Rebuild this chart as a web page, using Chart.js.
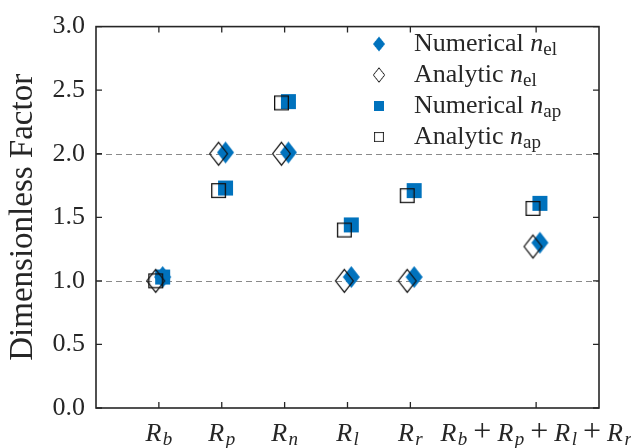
<!DOCTYPE html>
<html><head><meta charset="utf-8">
<script src="https://cdn.jsdelivr.net/npm/chart.js@4.4.0/dist/chart.umd.min.js"></script>
<style>html,body{margin:0;padding:0;background:#fff;}canvas{display:block;}</style>
</head><body>
<canvas id="c" width="631" height="448"></canvas>
<script>
// ---- data ----
const categories = ['R_b', 'R_p', 'R_n', 'R_l', 'R_r', 'R_b+R_p+R_l+R_r'];
const categoryPositions = [1, 2, 3, 4, 5, 7];
const numericalEl = [1.03, 2.01, 2.01, 1.03, 1.03, 1.30];
const analyticEl  = [1.00, 2.00, 2.00, 1.00, 1.00, 1.27];
const numericalAp = [1.03, 1.73, 2.41, 1.44, 1.71, 1.61];
const analyticAp  = [1.00, 1.71, 2.40, 1.40, 1.67, 1.57];
const yTickLabels = ['0.0', '0.5', '1.0', '1.5', '2.0', '2.5', '3.0'];
const refLines = [1.0, 2.0];
const legendLabels = [['Numerical ', 'n', 'el'], ['Analytic ', 'n', 'el'], ['Numerical ', 'n', 'ap'], ['Analytic ', 'n', 'ap']];
const yTitle = 'Dimensionless Factor';

// ---- style ----
const BLUE = '#0072BD';
const AXC = '#262626';
const FAM = '"Liberation Serif", "Times New Roman", serif';
const F_UP = '26px ' + FAM, F_IT = 'italic 26px ' + FAM;
const F_PLUS = '32px ' + FAM;
const F_SUB = '19px ' + FAM, F_SUBIT = 'italic 19px ' + FAM;
const OFF_AN = -0.05, OFF_NUM = 0.06;

function makeMarker(shape, w, h, fill, stroke, lw) {
  const pad = 2;
  const c = document.createElement('canvas');
  c.width = Math.ceil(w + pad * 2); c.height = Math.ceil(h + pad * 2);
  const g = c.getContext('2d');
  const cx = c.width / 2, cy = c.height / 2;
  const ins = stroke ? lw / 2 : 0;
  g.beginPath();
  if (shape === 'diamond') {
    g.moveTo(cx, cy - h / 2 + ins); g.lineTo(cx + w / 2 - ins, cy);
    g.lineTo(cx, cy + h / 2 - ins); g.lineTo(cx - w / 2 + ins, cy); g.closePath();
  } else {
    g.rect(cx - w / 2 + ins, cy - h / 2 + ins, w - 2 * ins, h - 2 * ins);
  }
  if (fill) { g.fillStyle = fill; g.fill(); }
  if (stroke) { g.strokeStyle = stroke; g.lineWidth = lw; g.stroke(); }
  return c;
}
const mNumEl = makeMarker('diamond', 17, 22, BLUE, null, 0);
const mAnEl = makeMarker('diamond', 19, 24, null, '#111', 1.2);
const mNumAp = makeMarker('square', 15, 15, BLUE, null, 0);
const mAnAp = makeMarker('square', 15, 15, null, '#111', 1.3);

function pts(vals, off) { return vals.map((v, i) => ({ x: categoryPositions[i] + off, y: v })); }

function parseLabel(lbl) {
  const runs = [];
  lbl.split('+').forEach((term, k) => {
    if (k > 0) runs.push({ t: '+', f: F_PLUS, dy: 0, pl: 6, pr: 6 });
    const [b, s] = term.split('_');
    runs.push({ t: b, f: F_IT, dy: 0, pr: 1.5 });
    if (s) runs.push({ t: s, f: F_SUBIT, dy: 4 });
  });
  return runs;
}
function drawRuns(ctx, x, y, runs, align) {
  let w = 0;
  runs.forEach(r => { ctx.font = r.f; r.w = ctx.measureText(r.t).width + (r.pl || 0) + (r.pr || 0); w += r.w; });
  let cx = align === 'center' ? x - w / 2 : x;
  ctx.textAlign = 'left'; ctx.textBaseline = 'alphabetic';
  runs.forEach(r => { ctx.font = r.f; ctx.fillText(r.t, cx + (r.pl || 0), y + r.dy); cx += r.w; });
}

const decor = {
  id: 'decor',
  beforeDatasetsDraw(chart) {
    const { ctx, chartArea: a, scales: { y } } = chart;
    ctx.save();
    ctx.strokeStyle = '#8a8a8a'; ctx.lineWidth = 1; ctx.setLineDash([6, 4]);
    refLines.forEach(v => {
      const py = Math.round(y.getPixelForValue(v)) + 0.5;
      ctx.beginPath(); ctx.moveTo(a.left, py); ctx.lineTo(a.right, py); ctx.stroke();
    });
    ctx.restore();
  },
  afterDraw(chart) {
    const { ctx, chartArea: a, scales: { x, y } } = chart;
    ctx.save();
    // frame
    ctx.strokeStyle = AXC; ctx.lineWidth = 1.6;
    ctx.strokeRect(a.left, a.top, a.right - a.left, a.bottom - a.top);
    // inward ticks
    const TL = 6;
    ctx.lineWidth = 1.3;
    ctx.beginPath();
    categoryPositions.forEach(p => {
      const px = x.getPixelForValue(p);
      ctx.moveTo(px, a.bottom); ctx.lineTo(px, a.bottom - TL);
      ctx.moveTo(px, a.top); ctx.lineTo(px, a.top + TL);
    });
    y.ticks.forEach(t => {
      const py = y.getPixelForValue(t.value);
      ctx.moveTo(a.left, py); ctx.lineTo(a.left + TL, py);
      ctx.moveTo(a.right, py); ctx.lineTo(a.right - TL, py);
    });
    ctx.stroke();
    // x labels
    ctx.fillStyle = AXC;
    categories.forEach((c, i) => {
      drawRuns(ctx, x.getPixelForValue(categoryPositions[i]), 441, parseLabel(c), 'center');
    });
    // legend
    const markers = [mNumEl, mAnEl, mNumAp, mAnAp];
    const sizes = [[12, 15], [12, 15], [10, 10], [10, 10]];
    legendLabels.forEach((lab, i) => {
      const base = 51 + i * 31;
      const m = markers[i], [w, h] = sizes[i];
      const sx = w / (m.width - 4), sy = h / (m.height - 4);
      ctx.drawImage(m, 379 - m.width * sx / 2, base - 7 - m.height * sy / 2, m.width * sx, m.height * sy);
      ctx.fillStyle = AXC;
      drawRuns(ctx, 414, base, [
        { t: lab[0], f: F_UP, dy: 0 }, { t: lab[1], f: F_IT, dy: 0 }, { t: lab[2], f: F_SUB, dy: 4 }
      ], 'left');
    });
    ctx.restore();
  }
};

new Chart(document.getElementById('c'), {
  type: 'scatter',
  data: {
    datasets: [
      { label: 'Numerical n_el', data: pts(numericalEl, OFF_NUM), pointStyle: mNumEl, order: 2 },
      { label: 'Analytic n_el', data: pts(analyticEl, OFF_AN), pointStyle: mAnEl, order: 0 },
      { label: 'Numerical n_ap', data: pts(numericalAp, OFF_NUM), pointStyle: mNumAp, order: 3 },
      { label: 'Analytic n_ap', data: pts(analyticAp, OFF_AN), pointStyle: mAnAp, order: 1 }
    ]
  },
  options: {
    responsive: false, animation: false, devicePixelRatio: 1,
    layout: { padding: { left: 0, top: 26, right: 32, bottom: 0 } },
    plugins: { legend: { display: false }, tooltip: { enabled: false } },
    scales: {
      x: {
        type: 'linear', min: 0, max: 8,
        grid: { display: false, drawTicks: false }, border: { display: false },
        ticks: { display: false },
        afterFit(s) { s.height = 40; }
      },
      y: {
        min: 0, max: 3,
        grid: { display: false, drawTicks: false }, border: { display: false },
        afterBuildTicks(s) { s.ticks = yTickLabels.map(t => ({ value: parseFloat(t) })); },
        ticks: {
          padding: 11, color: AXC, font: { family: FAM, size: 26 },
          callback: (v) => yTickLabels.find(t => parseFloat(t) === v) || ''
        },
        title: { display: true, text: yTitle, color: AXC, font: { family: FAM, size: 33 }, padding: { top: 4, bottom: 0 } },
        afterFit(s) { s.width = 96; }
      }
    }
  },
  plugins: [decor]
});
</script>
</body></html>
